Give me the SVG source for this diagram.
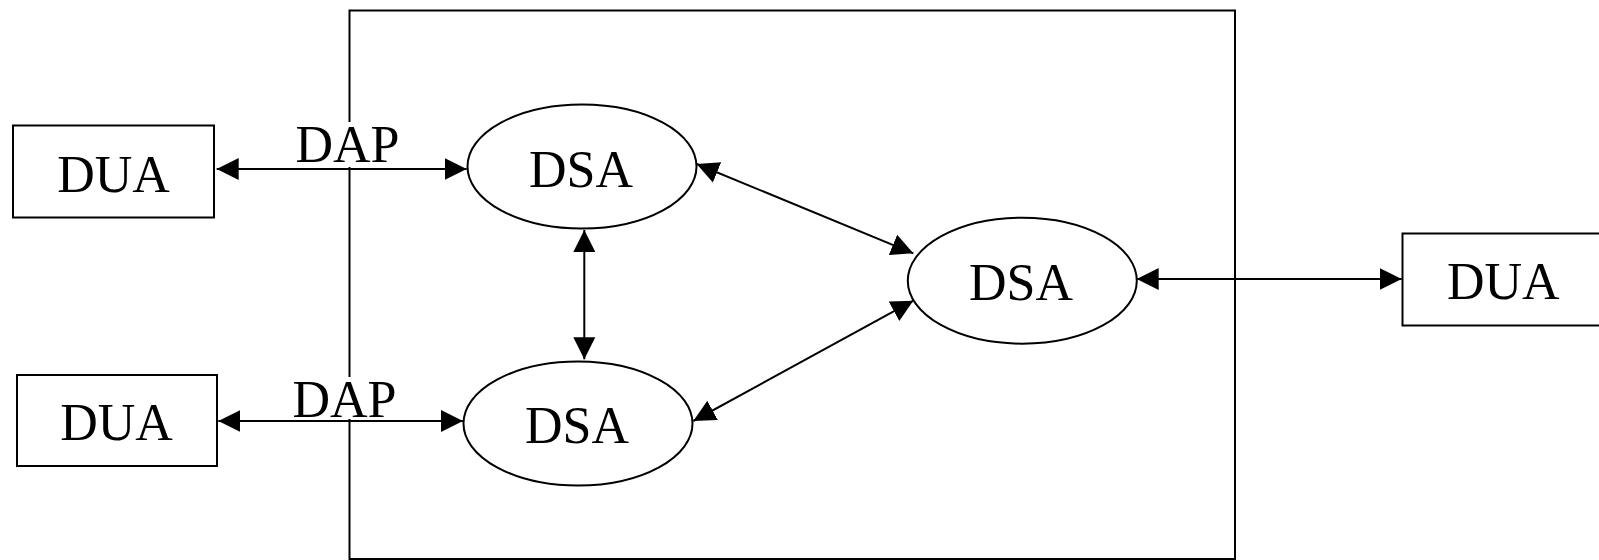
<svg xmlns="http://www.w3.org/2000/svg" width="1599" height="560" viewBox="0 0 1599 560">
  <style>
    .box { fill: #ffffff; stroke: #000000; stroke-width: 2; }
    .frame { fill: none; stroke: #000000; stroke-width: 2; }
    .label { font-family: "Liberation Serif", "Times New Roman", serif; font-size: 52px; fill: #000000; text-anchor: middle; }
    .edge { fill: none; stroke: #000000; stroke-width: 2; marker-start: url(#arrow); marker-end: url(#arrow); }
    .mask { fill: #ffffff; stroke: none; }
  </style>
  <defs>
    <marker id="arrow" markerUnits="userSpaceOnUse" markerWidth="24" markerHeight="24" refX="22" refY="11" orient="auto-start-reverse" viewBox="0 0 24 22">
      <path d="M0,0 L22,11 L0,22 z" fill="#000000"/>
    </marker>
  </defs>
  <rect width="1599" height="560" fill="#ffffff"/>

  <!-- service boundary enclosing the DSAs -->
  <g id="boundary">
    <rect class="frame" x="349.5" y="10.5" width="885.5" height="548.5"/>
    <rect class="mask" x="336" y="122" width="26" height="45"/>
    <rect class="mask" x="336" y="377" width="26" height="42"/>
    <text class="label" x="347.5" y="161.7">DAP</text>
    <text class="label" x="344.5" y="416.7">DAP</text>
  </g>

  <g id="dua-top">
    <rect class="box" x="13" y="125.5" width="201" height="92"/>
    <text class="label" x="113.5" y="191.7">DUA</text>
  </g>
  <g id="dua-bottom">
    <rect class="box" x="17" y="375" width="200" height="91"/>
    <text class="label" x="116.5" y="440">DUA</text>
  </g>
  <g id="dua-right">
    <rect class="box" x="1402.5" y="233.5" width="210" height="92"/>
    <text class="label" x="1503.3" y="299">DUA</text>
  </g>

  <g id="dsa-top">
    <ellipse class="box" cx="582" cy="166.5" rx="114.5" ry="62"/>
    <text class="label" x="581" y="186.7">DSA</text>
  </g>
  <g id="dsa-bottom">
    <ellipse class="box" cx="578" cy="423.5" rx="114.5" ry="62"/>
    <text class="label" x="577" y="443.3">DSA</text>
  </g>
  <g id="dsa-right">
    <ellipse class="box" cx="1022.3" cy="280.7" rx="114.5" ry="63"/>
    <text class="label" x="1021" y="300">DSA</text>
  </g>

  <g id="connectors">
    <line class="edge" x1="216.7" y1="169" x2="466.7" y2="169"/>
    <line class="edge" x1="218.3" y1="421" x2="463" y2="421"/>
    <line class="edge" x1="696.7" y1="164" x2="913.3" y2="253.3"/>
    <line class="edge" x1="693.3" y1="421" x2="913.3" y2="300.7"/>
    <line class="edge" x1="584.3" y1="230" x2="584.3" y2="359.3"/>
    <line class="edge" x1="1136.7" y1="279" x2="1401.7" y2="279"/>
  </g>
</svg>
